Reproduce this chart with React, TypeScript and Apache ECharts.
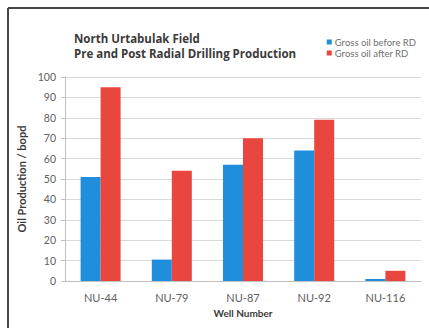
import React, { useEffect, useRef } from "react";
import * as echarts from "echarts";

const wells = ["NU-44", "NU-79", "NU-87", "NU-92", "NU-116"];
const beforeRD = [51, 10.5, 57, 64, 1];
const afterRD = [95, 54, 70, 79, 5];
const seriesNames = ["Gross oil before RD", "Gross oil after RD"];
const titleLines = ["North Urtabulak Field", "Pre and Post Radial Drilling Production"];

const FONT = "Lato, 'Open Sans', sans-serif";

export default function App() {
  const ref = useRef<HTMLDivElement>(null);

  useEffect(() => {
    if (!ref.current) return;
    const chart = echarts.init(ref.current, undefined, { renderer: "svg" });
    chart.setOption({
      animation: false,
      backgroundColor: "#ffffff",
      textStyle: { fontFamily: FONT },
      title: {
        text: titleLines.join("\n"),
        left: 69,
        top: 25.5,
        textStyle: {
          fontFamily: "'Open Sans', sans-serif",
          fontSize: 11.5,
          fontWeight: "bold",
          color: "#3a3a3a",
          lineHeight: 15.5,
        },
      },
      legend: {
        orient: "vertical",
        right: 8,
        top: 32,
        itemWidth: 5,
        itemHeight: 5,
        itemGap: 1,
        icon: "rect",
        textStyle: { fontFamily: FONT, fontSize: 9.5, color: "#707070", padding: [0, 0, 0, -2] },
        data: seriesNames,
      },
      grid: { left: 65, right: 8, top: 77, bottom: 47 },
      xAxis: {
        type: "category",
        data: wells,
        name: "Well Number",
        nameLocation: "middle",
        nameGap: 26,
        nameTextStyle: { fontFamily: FONT, fontSize: 10, fontWeight: "bold", color: "#3a3a3a" },
        axisLine: { lineStyle: { color: "#bfbfbf", width: 1 } },
        axisTick: { show: false },
        axisLabel: { fontFamily: FONT, fontSize: 11, color: "#606060", margin: 11 },
      },
      yAxis: {
        type: "value",
        min: 0,
        max: 100,
        interval: 10,
        name: "Oil Production / bopd",
        nameLocation: "middle",
        nameGap: 36,
        nameTextStyle: { fontFamily: FONT, fontSize: 11, fontWeight: "bold", color: "#3a3a3a" },
        axisLine: { show: true, lineStyle: { color: "#bfbfbf", width: 1 } },
        axisTick: { show: true, length: 4, lineStyle: { color: "#bfbfbf" } },
        axisLabel: { fontFamily: FONT, fontSize: 10.5, color: "#606060", margin: 9 },
        splitLine: { lineStyle: { color: "#d9d9d9", width: 1 } },
      },
      series: [
        {
          name: seriesNames[0],
          type: "bar",
          data: beforeRD,
          barWidth: 20,
          barGap: "0%",
          itemStyle: { color: "#1f8fdc" },
        },
        {
          name: seriesNames[1],
          type: "bar",
          data: afterRD,
          barWidth: 20,
          barGap: "0%",
          itemStyle: { color: "#e8463f" },
        },
      ],
      graphic: [
        {
          type: "line",
          shape: { x1: 8, y1: 8, x2: 429, y2: 8 },
          style: { stroke: "#454545", lineWidth: 2 },
        },
        {
          type: "line",
          shape: { x1: 8, y1: 8, x2: 8, y2: 328 },
          style: { stroke: "#454545", lineWidth: 2 },
        },
      ],
    });
    return () => chart.dispose();
  }, []);

  return (
    <div
      ref={ref}
      style={{ position: "fixed", left: 0, top: 0, width: 429, height: 328 }}
    />
  );
}
